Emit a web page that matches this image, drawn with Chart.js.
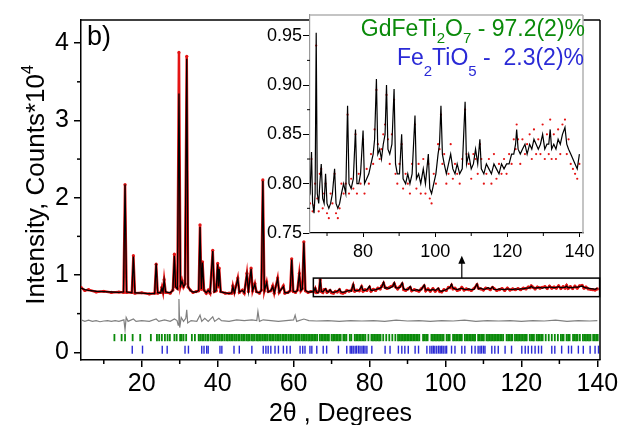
<!DOCTYPE html>
<html>
<head>
<meta charset="utf-8">
<script src="https://cdn.jsdelivr.net/npm/chart.js@4.4.1/dist/chart.umd.min.js"></script>
<style>
  body { margin: 0; background: #fff; }
  #wrap { position: relative; width: 625px; height: 425px; }
  #wrap canvas { position: absolute; left: 0; top: 0; }
</style>
</head>
<body>
<div id="wrap">
  <canvas id="mainChart" width="625" height="425"></canvas>
  <canvas id="insetChart" width="625" height="425"></canvas>
</div>
<script>
// Profile: 2theta (deg), calculated and observed intensity (counts * 10^4)
const twoTheta = [
  4.0, 5.0, 6.0, 8.0, 10.0, 12.0, 14.0, 15.2, 15.6, 16.0,
  17.4, 17.8, 18.2, 20.0, 22.0, 23.4, 23.8, 24.2, 25.0, 25.3,
  25.6, 25.9, 26.3, 27.5, 28.2, 28.6, 28.9, 29.4, 29.8, 30.2,
  30.6, 31.0, 31.4, 31.85, 32.2, 32.8, 33.5, 34.3, 35.0, 35.35,
  35.7, 36.0, 36.4, 37.0, 37.5, 38.0, 38.7, 39.1, 39.6, 40.0,
  40.2, 40.4, 40.8, 42.0, 43.0, 43.7, 44.0, 44.4, 45.3, 45.7,
  46.5, 47.0, 47.7, 48.1, 48.8, 49.2, 49.8, 50.2, 51.0, 51.5,
  51.9, 52.3, 52.9, 53.3, 54.0, 54.5, 54.9, 55.8, 56.2, 57.3,
  57.7, 58.5, 59.1, 59.5, 59.9, 60.5, 61.0, 61.5, 61.9, 62.3,
  62.7, 63.1, 63.8, 64.5, 65.3, 65.7, 66.0, 66.4, 66.7, 67.0,
  67.3, 67.7, 68.0, 68.4, 68.8, 69.2, 69.6, 70.0, 70.5, 71.0,
  71.5, 72.1, 72.5, 73.0, 73.5, 74.0, 74.6, 75.2, 75.7, 76.1,
  76.7, 77.3, 77.9, 78.3, 78.8, 79.3, 80.0, 80.4, 81.0, 81.6,
  82.2, 82.8, 83.2, 83.7, 84.1, 84.6, 85.1, 85.6, 86.1, 86.5,
  86.9, 87.4, 88.0, 88.6, 89.0, 89.5, 90.1, 90.7, 91.1, 91.8,
  92.4, 93.0, 93.6, 94.4, 94.8, 95.4, 96.0, 96.7, 97.3, 98.1,
  98.5, 99.0, 99.6, 100.2, 100.8, 101.2, 101.6, 102.0, 102.5, 103.1,
  103.7, 104.3, 104.9, 105.5, 106.1, 106.8, 107.5, 108.3, 108.7, 109.3,
  110.0, 110.6, 111.2, 111.8, 112.4, 112.8, 113.5, 114.2, 114.9, 115.6,
  116.3, 117.0, 117.7, 118.4, 119.1, 119.8, 120.5, 121.2, 121.8, 122.3,
  122.6, 123.0, 123.6, 124.2, 124.9, 125.5, 126.2, 126.8, 127.4, 128.0,
  128.6, 129.2, 129.8, 130.4, 131.0, 131.5, 131.9, 132.3, 132.9, 133.5,
  134.1, 134.7, 135.3, 136.0, 136.5, 137.0, 137.6, 138.2, 138.8, 139.4,
  140.0
];
const iCalc = [
  0.83, 0.81, 0.80, 0.79, 0.785, 0.78, 0.775, 0.78, 2.17, 0.78,
  0.77, 1.24, 0.77, 0.765, 0.76, 0.76, 1.15, 0.77, 0.77, 0.83,
  0.78, 0.93, 0.78, 0.77, 0.80, 1.25, 0.85, 0.82, 3.35, 0.86,
  0.92, 0.85, 0.88, 3.80, 0.85, 0.80, 0.78, 0.78, 0.80, 1.62,
  0.82, 1.16, 0.80, 0.77, 0.80, 0.77, 1.31, 0.78, 0.80, 1.14,
  0.85, 1.08, 0.78, 0.77, 0.76, 0.77, 0.85, 0.77, 0.95, 0.78,
  0.80, 0.77, 1.01, 0.79, 1.08, 0.80, 0.88, 0.78, 0.77, 0.80,
  2.22, 0.80, 0.90, 0.78, 0.80, 0.85, 0.77, 0.95, 0.78, 0.85,
  0.77, 0.77, 0.80, 1.20, 0.79, 0.78, 0.80, 1.01, 0.80, 0.82,
  1.42, 0.80, 0.78, 0.78, 0.79, 0.832, 0.78, 0.77, 0.79, 0.953,
  0.79, 0.78, 0.80, 0.82, 0.785, 0.78, 0.81, 0.78, 0.775, 0.78,
  0.79, 0.815, 0.78, 0.775, 0.78, 0.79, 0.80, 0.79, 0.879, 0.80,
  0.795, 0.805, 0.855, 0.80, 0.80, 0.81, 0.854, 0.80, 0.805, 0.81,
  0.82, 0.83, 0.845, 0.906, 0.83, 0.835, 0.825, 0.84, 0.85, 0.90,
  0.835, 0.83, 0.84, 0.896, 0.82, 0.81, 0.81, 0.85, 0.805, 0.80,
  0.81, 0.80, 0.81, 0.869, 0.805, 0.81, 0.80, 0.815, 0.80, 0.83,
  0.795, 0.79, 0.80, 0.81, 0.83, 0.84, 0.879, 0.83, 0.82, 0.81,
  0.82, 0.83, 0.815, 0.81, 0.82, 0.81, 0.815, 0.883, 0.82, 0.83,
  0.815, 0.82, 0.835, 0.82, 0.845, 0.815, 0.81, 0.82, 0.815, 0.81,
  0.82, 0.815, 0.81, 0.82, 0.815, 0.82, 0.82, 0.83, 0.83, 0.84,
  0.855, 0.835, 0.83, 0.835, 0.84, 0.83, 0.84, 0.835, 0.845, 0.84,
  0.835, 0.84, 0.85, 0.835, 0.84, 0.84, 0.855, 0.835, 0.84, 0.835,
  0.845, 0.84, 0.85, 0.857, 0.84, 0.835, 0.83, 0.825, 0.82, 0.815,
  0.83
];
const iObs = [
  0.84, 0.80, 0.81, 0.78, 0.79, 0.775, 0.78, 0.775, 2.17, 0.775,
  0.775, 1.25, 0.765, 0.77, 0.755, 0.765, 1.14, 0.765, 0.775, 0.84,
  0.775, 0.94, 0.775, 0.765, 0.805, 1.27, 0.845, 0.825, 3.88, 0.855,
  0.93, 0.845, 0.885, 3.83, 0.845, 0.805, 0.775, 0.785, 0.795, 1.65,
  0.815, 1.17, 0.805, 0.765, 0.805, 0.765, 1.32, 0.785, 0.795, 1.15,
  0.845, 1.09, 0.785, 0.765, 0.765, 0.765, 0.86, 0.775, 0.96, 0.775,
  0.805, 0.765, 1.02, 0.785, 1.09, 0.795, 0.89, 0.785, 0.765, 0.805,
  2.23, 0.795, 0.91, 0.785, 0.795, 0.86, 0.765, 0.96, 0.775, 0.86,
  0.765, 0.775, 0.795, 1.21, 0.785, 0.775, 0.805, 1.02, 0.795, 0.825,
  1.43, 0.795, 0.775, 0.785, 0.78, 0.825, 0.772, 0.778, 0.80, 0.94,
  0.785, 0.772, 0.81, 0.815, 0.775, 0.79, 0.80, 0.77, 0.765, 0.79,
  0.78, 0.81, 0.77, 0.765, 0.775, 0.80, 0.79, 0.80, 0.87, 0.79,
  0.805, 0.795, 0.85, 0.79, 0.81, 0.80, 0.845, 0.79, 0.815, 0.80,
  0.83, 0.82, 0.855, 0.895, 0.84, 0.825, 0.835, 0.85, 0.86, 0.89,
  0.845, 0.82, 0.85, 0.885, 0.81, 0.80, 0.82, 0.84, 0.795, 0.81,
  0.80, 0.79, 0.82, 0.86, 0.795, 0.82, 0.79, 0.825, 0.79, 0.82,
  0.785, 0.78, 0.81, 0.80, 0.84, 0.835, 0.87, 0.82, 0.83, 0.80,
  0.81, 0.84, 0.805, 0.82, 0.81, 0.80, 0.825, 0.875, 0.83, 0.82,
  0.805, 0.83, 0.825, 0.81, 0.84, 0.825, 0.80, 0.81, 0.825, 0.80,
  0.83, 0.805, 0.82, 0.81, 0.825, 0.81, 0.83, 0.82, 0.845, 0.835,
  0.86, 0.845, 0.82, 0.845, 0.83, 0.84, 0.85, 0.825, 0.855, 0.83,
  0.845, 0.83, 0.86, 0.825, 0.85, 0.83, 0.865, 0.825, 0.85, 0.825,
  0.855, 0.83, 0.86, 0.865, 0.83, 0.845, 0.82, 0.815, 0.81, 0.805,
  0.82
];

// Difference curve (obs - calc, shifted)
const diffTheta = [
  4, 5, 6, 7, 8, 9, 10, 11, 12, 13,
  14, 15.3, 15.6, 15.9, 16.4, 17.8, 18.5, 20, 22, 23.8,
  24.5, 26, 27.5, 28.6, 29.3, 29.6, 29.8, 30.0, 30.4, 31.0,
  31.6, 31.85, 32.1, 33, 34.5, 35.35, 35.8, 36.6, 37.5, 38.7,
  39.2, 40.3, 41, 43, 45, 47, 49, 50.3, 50.6, 51.0,
  52, 54, 56, 58, 60.0, 60.4, 60.8, 62.7, 64, 66,
  69, 72, 75, 78, 81, 84, 87, 90, 93, 96,
  99, 102, 105, 108, 111, 114, 117, 120, 123, 126,
  129, 132, 135, 138, 140
];
const diffI = [
  0.42, 0.40, 0.415, 0.40, 0.41, 0.395, 0.405, 0.41, 0.40, 0.41,
  0.40, 0.42, 0.29, 0.45, 0.40, 0.43, 0.40, 0.41, 0.40, 0.43,
  0.40, 0.42, 0.40, 0.43, 0.41, 0.35, 0.69, 0.32, 0.45, 0.40,
  0.44, 0.55, 0.38, 0.41, 0.40, 0.48, 0.40, 0.44, 0.40, 0.46,
  0.40, 0.44, 0.41, 0.40, 0.42, 0.41, 0.42, 0.41, 0.53, 0.40,
  0.42, 0.41, 0.40, 0.41, 0.42, 0.48, 0.40, 0.43, 0.41, 0.405,
  0.41, 0.40, 0.41, 0.405, 0.41, 0.40, 0.415, 0.405, 0.41, 0.40,
  0.41, 0.405, 0.415, 0.40, 0.41, 0.405, 0.41, 0.40, 0.41, 0.405,
  0.415, 0.40, 0.41, 0.405, 0.41
];

// Bragg reflection positions (2theta)
const gdfetiRefl = [
  12.8, 14.7, 15.6, 17.6, 19.6, 22.4, 24.0, 24.6, 25.3, 26.1, 26.8, 27.4, 28.6, 29.2,
  30.1, 30.5, 31.0, 31.7, 33.2, 34.0,
  35.0, 35.4, 35.9, 36.3, 36.8, 37.3, 37.6, 38.2, 38.7, 39.1, 39.5, 40.0, 40.4, 40.9,
  41.3, 41.8, 42.3, 42.7, 43.2, 43.6, 44.0, 44.5, 44.9, 45.4, 45.8, 46.3, 46.7, 47.1,
  47.6, 48.0, 48.4, 48.9, 49.3, 49.7, 50.2, 50.6, 51.0, 51.4, 51.9, 52.3, 52.7, 53.1,
  53.6, 54.0, 54.4, 54.8, 55.3, 55.7, 56.1, 56.5, 57.0, 57.4, 57.8, 58.2, 58.7, 59.1,
  59.5, 59.9, 60.4, 60.8, 61.2, 61.6, 62.1, 62.5, 62.9, 63.3, 63.8, 64.2, 64.6,
  65.0, 65.4, 65.8, 66.2, 66.9, 67.3, 67.7, 68.1, 68.5, 68.9, 69.3, 70.0, 70.4, 70.8,
  71.2, 71.6, 72.0, 72.4, 73.1, 73.5, 73.9, 74.8, 75.2, 76.1, 76.5, 76.9, 77.3, 77.7,
  78.1, 78.5, 78.9, 79.7, 80.5, 80.9, 81.3, 81.7, 82.1, 82.5, 82.9, 83.6, 84.4, 85.2,
  86.0, 86.8, 87.5, 87.9, 88.3, 88.7, 89.1, 89.5, 89.9, 90.3, 90.7, 91.1, 91.5, 91.9,
  92.3, 92.7, 93.1, 94.1, 94.5, 94.9, 95.3, 96.3, 96.7, 97.1, 97.5, 97.9, 98.3, 98.7,
  99.1, 99.5, 100.3, 100.7, 101.1, 102.0, 102.4, 102.8, 103.2, 103.6, 104.0, 104.3,
  105.1, 105.5, 105.9, 106.3, 106.7, 107.1, 107.5, 107.8, 108.6, 109.0, 109.4, 109.8,
  110.1, 110.8, 111.2, 111.6, 112.0, 112.4, 112.8, 113.2, 113.6, 114.0, 114.4, 114.8,
  115.2, 116.1, 116.5, 116.9, 117.3, 117.6, 118.3, 118.7, 119.1, 119.5, 119.9, 120.3,
  120.7, 121.1, 121.4, 122.2, 122.6, 123.0, 123.3, 124.0, 124.4, 124.8, 125.2, 125.6,
  126.4, 127.2, 128.0, 128.8, 129.6, 130.4, 130.8, 131.1, 131.9, 132.3, 132.7, 133.6,
  134.0, 134.4, 134.8, 135.4, 136.2, 136.6, 137.0, 137.4, 137.8, 138.2, 138.9, 139.3,
  139.7, 140.1
];
const fetiRefl = [
  17.5, 20.2, 25.4, 26.7, 31.4, 32.3, 35.8, 36.4, 37.1, 37.5, 40.6, 41.1, 44.3, 45.7,
  49.0, 52.0, 52.7, 53.3, 54.0, 55.1, 56.0, 57.3, 58.2, 59.1, 61.7, 62.4, 63.0, 64.3,
  64.8, 66.1, 67.8, 68.7, 71.8, 74.0, 74.9, 75.3, 75.7, 76.2, 76.6, 77.1, 77.5, 78.0,
  78.4, 78.8, 79.3, 80.6, 84.1, 85.4, 87.6, 88.5, 89.3, 90.2, 92.0, 92.9, 95.1, 95.9,
  96.4, 96.8, 97.2, 97.7, 98.2, 98.6, 99.0, 99.4, 99.9, 100.3, 101.6, 102.5, 104.3,
  105.1, 106.9, 107.8, 108.6, 109.1, 109.5, 110.0, 110.4, 112.2, 113.0, 113.9, 115.7,
  117.4, 120.1, 121.0, 121.8, 122.7, 123.6, 124.5, 125.3, 128.0, 128.8, 130.6, 132.4,
  133.2, 135.0, 136.3, 138.1, 139.4, 140.3
];

// Axis ticks
const xTicks = [20, 40, 60, 80, 100, 120, 140];
const xMinor = [10, 30, 50, 70, 90, 110, 130];
const yTicks = [0, 1, 2, 3, 4];
const yMinor = [0.5, 1.5, 2.5, 3.5];
const insetXTicks = [80, 100, 120, 140];
const insetXMinor = [70, 90, 110, 130];
const insetYTicks = [0.75, 0.80, 0.85, 0.90, 0.95];
const insetYMinor = [0.775, 0.825, 0.875, 0.925];

const FONT = 'Arial, "Liberation Sans", sans-serif';
const RED = 'rgb(228,20,20)';
const GREEN = '#0a8a0a';
const BLUE = '#2a2ad6';

const toPts = (xs, ys) => xs.map((v, i) => ({ x: v, y: ys[i] }));
const rowPts = (xs, row) => xs.map(v => ({ x: v, y: row }));

// draw a line of text made of runs (for sub/superscripts)
function drawRuns(ctx, runs, x, y, align) {
    let total = 0;
    runs.forEach(r => { ctx.font = r.font; r.w = ctx.measureText(r.text).width; total += r.w; });
    let cx = align === 'right' ? x - total : align === 'center' ? x - total / 2 : x;
    ctx.textAlign = 'left';
    ctx.textBaseline = 'alphabetic';
    runs.forEach(r => {
        ctx.font = r.font;
        ctx.fillStyle = r.color || '#000';
        ctx.fillText(r.text, cx, y + (r.dy || 0));
        cx += r.w;
    });
}

function seg(ctx, x1, y1, x2, y2) {
    ctx.beginPath();
    ctx.moveTo(x1, y1);
    ctx.lineTo(x2, y2);
    ctx.stroke();
}

// Main chart decorations
const mainDeco = {
    id: 'mainDeco',
    afterDraw(chart) {
        const { ctx, chartArea: a, scales: { x, y } } = chart;
        ctx.save();
        ctx.strokeStyle = '#000';
        ctx.lineWidth = 1.5;
        seg(ctx, a.left, a.top, a.right, a.top);
        seg(ctx, a.right, a.top, a.right, a.bottom);
        xMinor.forEach(v => { const px = x.getPixelForValue(v); seg(ctx, px, a.bottom, px, a.bottom + 4); });
        yMinor.forEach(v => { const py = y.getPixelForValue(v); seg(ctx, a.left - 4, py, a.left, py); });

        // zoomed region box and arrow
        const bx1 = x.getPixelForValue(65.2), bx2 = x.getPixelForValue(140.6);
        const by1 = y.getPixelForValue(0.96), by2 = y.getPixelForValue(0.72);
        ctx.strokeRect(bx1, by1, bx2 - bx1, by2 - by1);
        const ax = x.getPixelForValue(104.3), ayTop = y.getPixelForValue(1.25);
        ctx.lineWidth = 1.2;
        seg(ctx, ax, by1, ax, ayTop + 6);
        ctx.fillStyle = '#000';
        ctx.beginPath();
        ctx.moveTo(ax, ayTop);
        ctx.lineTo(ax - 3.5, ayTop + 8);
        ctx.lineTo(ax + 3.5, ayTop + 8);
        ctx.closePath();
        ctx.fill();

        // panel label
        drawRuns(ctx, [{ text: 'b)', font: '27px ' + FONT }], 87, 45, 'left');

        // x title
        drawRuns(ctx, [{ text: '2\u03B8 , Degrees', font: '25px ' + FONT }], (a.left + a.right) / 2, 421, 'center');

        // y title (rotated)
        ctx.translate(44, 185);
        ctx.rotate(-Math.PI / 2);
        drawRuns(ctx, [
            { text: 'Intensity, Counts*10', font: '26px ' + FONT },
            { text: '4', font: '16px ' + FONT, dy: -11 }
        ], 0, 0, 'center');
        ctx.restore();
    }
};

new Chart(document.getElementById('mainChart'), {
    type: 'scatter',
    data: {
        datasets: [
            {
                data: toPts(twoTheta, iCalc), showLine: true, borderColor: '#000', borderWidth: 1.3,
                pointRadius: 0, order: 0
            },
            {
                data: toPts(twoTheta, iObs), showLine: true, borderColor: RED, borderWidth: 2.5,
                pointRadius: 1.6, pointBackgroundColor: RED, pointBorderWidth: 0, order: 1
            },
            {
                data: toPts(diffTheta, diffI), showLine: true, borderColor: '#808080', borderWidth: 1.2,
                pointRadius: 0, order: 2
            },
            {
                data: rowPts(gdfetiRefl, 0.19), pointStyle: 'line', pointRotation: 90, pointRadius: 3.6,
                pointBorderColor: GREEN, pointBorderWidth: 1.8, order: 3
            },
            {
                data: rowPts(fetiRefl, 0.034), pointStyle: 'line', pointRotation: 90, pointRadius: 4,
                pointBorderColor: BLUE, pointBorderWidth: 1.4, order: 4
            }
        ]
    },
    options: {
        responsive: false,
        animation: false,
        events: [],
        layout: { padding: { top: 12, right: 25, left: 0, bottom: 0 } },
        plugins: { legend: { display: false }, tooltip: { enabled: false } },
        scales: {
            x: {
                type: 'linear', min: 4, max: 140.7,
                afterBuildTicks: s => { s.ticks = xTicks.map(v => ({ value: v })); },
                afterFit: s => { s.height = 65; },
                grid: { drawOnChartArea: false, tickLength: 7, color: '#000', lineWidth: 1.5 },
                border: { color: '#000', width: 1.5 },
                ticks: { color: '#000', font: { size: 25, family: FONT }, padding: 2, autoSkip: false, maxRotation: 0 }
            },
            y: {
                type: 'linear', min: -0.1, max: 4.3,
                afterBuildTicks: s => { s.ticks = yTicks.map(v => ({ value: v })); },
                afterFit: s => { s.width = 81; },
                grid: { drawOnChartArea: false, tickLength: 7, color: '#000', lineWidth: 1.5 },
                border: { color: '#000', width: 1.5 },
                ticks: { color: '#000', font: { size: 25, family: FONT }, padding: 5, autoSkip: false }
            }
        }
    },
    plugins: [mainDeco]
});

// Inset decorations
const insetDeco = {
    id: 'insetDeco',
    beforeDraw(chart) {
        const { ctx, chartArea: a } = chart;
        ctx.save();
        ctx.fillStyle = '#fff';
        ctx.fillRect(a.left, a.top, a.right - a.left, a.bottom - a.top);
        ctx.restore();
    },
    afterDraw(chart) {
        const { ctx, chartArea: a, scales: { x, y } } = chart;
        ctx.save();
        ctx.strokeStyle = '#b0b0b0';
        ctx.lineWidth = 1.5;
        seg(ctx, a.left, a.top, a.right, a.top);
        seg(ctx, a.right, a.top, a.right, a.bottom);
        ctx.strokeStyle = '#000';
        ctx.lineWidth = 1;
        insetXMinor.forEach(v => { const px = x.getPixelForValue(v); seg(ctx, px, a.bottom, px, a.bottom + 3); });
        insetYMinor.forEach(v => { const py = y.getPixelForValue(v); seg(ctx, a.left - 3, py, a.left, py); });

        const big = '23px ' + FONT, sub = '15px ' + FONT;
        drawRuns(ctx, [
            { text: 'GdFeTi', font: big, color: GREEN },
            { text: '2', font: sub, color: GREEN, dy: 7 },
            { text: 'O', font: big, color: GREEN },
            { text: '7', font: sub, color: GREEN, dy: 7 },
            { text: ' - 97.2(2)%', font: big, color: GREEN }
        ], 585, 36, 'right');
        drawRuns(ctx, [
            { text: 'Fe', font: big, color: BLUE },
            { text: '2', font: sub, color: BLUE, dy: 11 },
            { text: 'TiO', font: big, color: BLUE },
            { text: '5', font: sub, color: BLUE, dy: 11 },
            { text: ' -  2.3(2)%', font: big, color: BLUE }
        ], 584, 65, 'right');
        ctx.restore();
    }
};

new Chart(document.getElementById('insetChart'), {
    type: 'scatter',
    data: {
        datasets: [
            {
                data: toPts(twoTheta, iCalc), showLine: true, borderColor: '#000', borderWidth: 1.2,
                pointRadius: 0, order: 0
            },
            {
                data: toPts(twoTheta, iObs), showLine: false, pointRadius: 1.1,
                pointBackgroundColor: RED, pointBorderWidth: 0, order: 1
            }
        ]
    },
    options: {
        responsive: false,
        animation: false,
        events: [],
        layout: { padding: { top: 15, right: 42, left: 0, bottom: 0 } },
        plugins: { legend: { display: false }, tooltip: { enabled: false } },
        scales: {
            x: {
                type: 'linear', min: 65.28, max: 141,
                afterBuildTicks: s => { s.ticks = insetXTicks.map(v => ({ value: v })); },
                afterFit: s => { s.height = 192; },
                grid: { drawOnChartArea: false, tickLength: 4, color: '#000', lineWidth: 1 },
                border: { color: '#000', width: 1.2 },
                ticks: { color: '#000', font: { size: 18, family: FONT }, padding: 4, autoSkip: false, maxRotation: 0 }
            },
            y: {
                type: 'linear', min: 0.75, max: 0.971,
                afterBuildTicks: s => { s.ticks = insetYTicks.map(v => ({ value: v })); },
                afterFit: s => { s.width = 310; },
                grid: { drawOnChartArea: false, tickLength: 7, color: '#000', lineWidth: 1 },
                border: { color: '#999', width: 1.2 },
                ticks: {
                    color: '#000', font: { size: 18, family: FONT }, padding: 1, autoSkip: false,
                    callback: v => v.toFixed(2)
                }
            }
        }
    },
    plugins: [insetDeco]
});
</script>
</body>
</html>
